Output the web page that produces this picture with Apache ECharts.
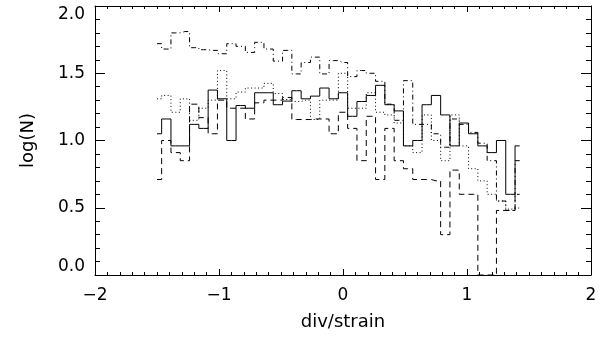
<!DOCTYPE html>
<html>
<head>
<meta charset="utf-8">
<script src="https://cdn.jsdelivr.net/npm/echarts@6/dist/echarts.min.js"></script>
<style>
  html, body { margin: 0; padding: 0; background: #fff; }
  #chart { width: 600px; height: 354px; }
</style>
</head>
<body>
<div id="chart"></div>
<script>
// bin positions (as plotted)
var xs = [-1.5, -1.425, -1.35, -1.275, -1.2, -1.125, -1.05, -0.975, -0.9, -0.825,
  -0.75, -0.675, -0.6, -0.525, -0.45, -0.375, -0.3, -0.225, -0.15, -0.075,
  0, 0.075, 0.15, 0.225, 0.3, 0.375, 0.45, 0.525, 0.6, 0.675,
  0.75, 0.825, 0.9, 0.975, 1.05, 1.125, 1.2, 1.275, 1.35, 1.425]

// log(N) per bin
var solid = [1.05, 1.16, 0.96, 0.96, 1.12, 1.09, 1.375, 1.31, 1.0, 1.26,
  1.24, 1.355, 1.355, 1.266, 1.293, 1.37, 1.31, 1.33, 1.39, 1.31,
  1.355, 1.18, 1.29, 1.335, 1.41, 1.266, 1.22, 0.96, 1.0, 1.266,
  1.335, 1.19, 0.96, 1.13, 1.05, 0.96, 0.91, 1.0, 0.6, 0.96]
var dashed = [0.71, 1.0, 0.91, 0.85, 1.27, 1.17, 1.05, 1.3, 1.24, 1.24,
  1.16, 1.28, 1.3, 1.3, 1.32, 1.156, 1.156, 1.16, 1.16, 1.05,
  1.21, 1.09, 0.85, 1.18, 0.71, 1.09, 0.85, 0.79, 0.71, 0.71,
  0.70, 0.30, 0.78, 0.60, 0.60, 0, 0, 0.48, 0.48, 0.60]
var dotted = [1.31, 1.335, 1.21, 1.31, 1.15, 1.24, 1.30, 1.52, 1.31, 1.36,
  1.39, 1.39, 1.425, 1.35, 1.305, 1.29, 1.30, 1.156, 1.30, 1.30,
  1.5, 1.24, 1.24, 1.355, 1.21, 1.19, 1.13, 0.96, 0.91, 1.19,
  1.0, 0.85, 1.19, 0.96, 0.79, 0.70, 0.60, 0.55, 0.49, 0.50]
var dashdot = [1.72, 1.68, 1.80, 1.81, 1.69, 1.675, 1.67, 1.645, 1.72, 1.70,
  1.655, 1.73, 1.68, 1.59, 1.67, 1.495, 1.58, 1.62, 1.495, 1.594,
  1.58, 1.475, 1.52, 1.50, 1.44, 1.27, 1.15, 1.445, 1.12, 1.12,
  1.05, 0.95, 1.16, 1.12, 1.06, 0.98, 0.85, 0.55, 0.48, 0.85]

var font = 'DejaVu Sans'

function pairs(v) {
  return xs.map(function (x, i) { return [x, v[i]] })
}

function histo(name, v, dash) {
  return {
    name: name,
    type: 'line',
    step: 'middle',
    symbol: 'none',
    silent: true,
    animation: false,
    xAxisIndex: 0,
    yAxisIndex: 0,
    lineStyle: { color: '#000', width: 1, type: dash },
    data: pairs(v)
  }
}

// frame axis (top / right copies carry only ticks)
function xAx(pos, show) {
  return {
    type: 'value',
    position: pos,
    min: -2,
    max: 2,
    interval: 1,
    axisLine: { show: true, onZero: false, lineStyle: { color: '#000', width: 1 } },
    axisTick: { inside: true, length: 6, lineStyle: { color: '#000' } },
    minorTick: { show: true, splitNumber: 10, length: 3, lineStyle: { color: '#000' } },
    splitLine: { show: false },
    axisLabel: {
      show: show,
      margin: 12,
      color: '#000',
      fontFamily: font,
      fontSize: 17,
      formatter: function (v) { return String(v).replace('-', '\u2212') }
    },
    name: show ? 'div/strain' : '',
    nameLocation: 'middle',
    nameGap: 38,
    nameTextStyle: { color: '#000', fontFamily: font, fontSize: 18 }
  }
}

function yAx(pos, show) {
  return {
    type: 'value',
    position: pos,
    min: 0,
    max: 2,
    interval: 0.5,
    axisLine: { show: true, onZero: false, lineStyle: { color: '#000', width: 1 } },
    axisTick: { inside: true, length: 10, lineStyle: { color: '#000' } },
    minorTick: { show: true, splitNumber: 5, length: 5, lineStyle: { color: '#000' } },
    splitLine: { show: false },
    axisLabel: {
      show: show,
      margin: 10,
      color: '#000',
      fontFamily: font,
      fontSize: 17,
      verticalAlignMinLabel: 'bottom',
      verticalAlignMaxLabel: 'top',
      formatter: function (v) { return v.toFixed(1) }
    },
    name: show ? 'log(N)' : '',
    nameLocation: 'middle',
    nameRotate: 90,
    nameGap: 58,
    nameTextStyle: { color: '#000', fontFamily: font, fontSize: 18 }
  }
}

var myChart = echarts.init(document.getElementById('chart'), null, { renderer: 'canvas' })
var option = {
  backgroundColor: '#fff',
  animation: false,
  grid: { left: 95, right: 9, top: 6, bottom: 79 },
  xAxis: [xAx('bottom', true), xAx('top', false)],
  yAxis: [yAx('left', true), yAx('right', false)],
  series: [
    histo('solid', solid, 'solid'),
    histo('dashed', dashed, [6, 4]),
    histo('dotted', dotted, [1, 2.5]),
    histo('dashdot', dashdot, [5, 3, 1, 3])
  ]
}
option && myChart.setOption(option)
</script>
</body>
</html>
